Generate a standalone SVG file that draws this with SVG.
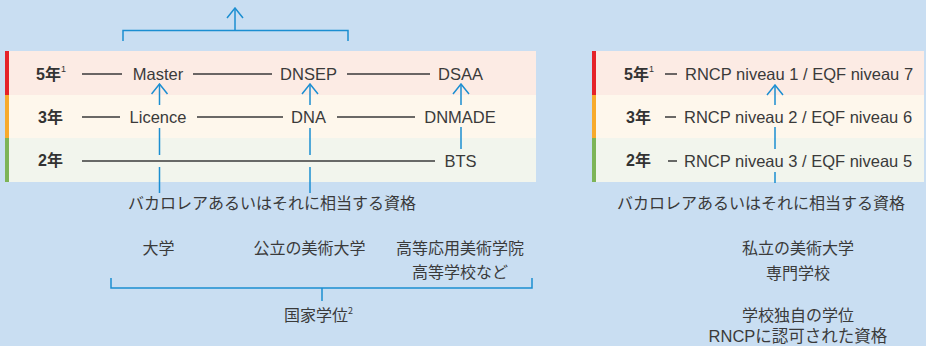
<svg xmlns="http://www.w3.org/2000/svg" width="926" height="346" viewBox="0 0 926 346">
<style>
.t{font-family:"Liberation Sans","Noto Sans CJK JP",sans-serif;font-size:16.5px;fill:#3a3a3a}
.j{font-family:"Noto Sans CJK JP","Liberation Sans",sans-serif;font-size:16px;fill:#3a3a3a}
.y{font-family:"Liberation Sans","Noto Sans CJK JP",sans-serif;font-size:16px;font-weight:bold;fill:#333}
.s{font-size:9px;font-weight:normal}
.m{text-anchor:middle}
.k{stroke:#3a3a3a;stroke-width:1.3;fill:none}
.b{stroke:#1b8ed1;stroke-width:1.5;fill:none}
</style>
<defs>
<marker id="arr" viewBox="-11 -9 12 18" refX="0" refY="0" markerWidth="12" markerHeight="18" markerUnits="userSpaceOnUse" orient="auto">
<path d="M-10,-8 L0,0 L-10,8" fill="none" stroke="#1b8ed1" stroke-width="1.5"/>
</marker>
</defs>
<rect width="926" height="346" fill="#c9def2"/>
<g id="left-panel">
<rect x="5" y="51" width="531" height="44" fill="#fcebe4"/>
<rect x="5" y="95" width="531" height="43" fill="#fef7ec"/>
<rect x="5" y="138" width="531" height="44" fill="#f2f5ed"/>
<rect x="5" y="51" width="4" height="44" fill="#e52229"/>
<rect x="5" y="95" width="4" height="43" fill="#f7aa2c"/>
<rect x="5" y="138" width="4" height="44" fill="#7db457"/>
</g>
<g id="right-panel">
<rect x="592" y="51" width="332" height="44" fill="#fcebe4"/>
<rect x="592" y="95" width="332" height="43" fill="#fef7ec"/>
<rect x="592" y="138" width="332" height="44" fill="#f2f5ed"/>
<rect x="592" y="51" width="4" height="44" fill="#e52229"/>
<rect x="592" y="95" width="4" height="43" fill="#f7aa2c"/>
<rect x="592" y="138" width="4" height="44" fill="#7db457"/>
</g>
<g id="year-labels">
<text class="y" x="36" y="80">5年<tspan class="s" dy="-8">1</tspan></text>
<text class="y" x="38" y="123">3年</text>
<text class="y" x="38" y="166">2年</text>
<text class="y" x="624" y="80">5年<tspan class="s" dy="-8">1</tspan></text>
<text class="y" x="626" y="123">3年</text>
<text class="y" x="626" y="166">2年</text>
</g>
<g id="node-master"><text class="t m" x="158" y="80">Master</text></g>
<g id="node-dnsep"><text class="t m" x="308.5" y="80">DNSEP</text></g>
<g id="node-dsaa"><text class="t m" x="460.5" y="80">DSAA</text></g>
<g id="node-licence"><text class="t m" x="158" y="123">Licence</text></g>
<g id="node-dna"><text class="t m" x="308.5" y="123">DNA</text></g>
<g id="node-dnmade"><text class="t m" x="460" y="123">DNMADE</text></g>
<g id="node-bts"><text class="t m" x="460.5" y="166.5">BTS</text></g>
<g id="node-rncp1"><text class="t" x="685" y="80">RNCP niveau 1 / EQF niveau 7</text></g>
<g id="node-rncp2"><text class="t" x="684" y="123">RNCP niveau 2 / EQF niveau 6</text></g>
<g id="node-rncp3"><text class="t" x="684" y="166.5">RNCP niveau 3 / EQF niveau 5</text></g>
<g id="node-bac-left"><text class="j m" x="272" y="209">バカロレアあるいはそれに相当する資格</text></g>
<g id="node-bac-right"><text class="j m" x="761" y="209">バカロレアあるいはそれに相当する資格</text></g>
<g id="node-univ"><text class="j m" x="158.5" y="254">大学</text></g>
<g id="node-public-art"><text class="j m" x="309.5" y="254">公立の美術大学</text></g>
<g id="node-applied-art"><text class="j m" x="460" y="254">高等応用美術学院</text><text class="j m" x="460" y="278">高等学校など</text></g>
<g id="node-national"><text class="j" x="284" y="321">国家学位<tspan font-size="9" dy="-7">2</tspan></text></g>
<g id="node-private"><text class="j m" x="798" y="254">私立の美術大学</text><text class="j m" x="798" y="279">専門学校</text></g>
<g id="node-school-degree"><text class="j m" x="798" y="321">学校独自の学位</text><text class="t m" x="798" y="342">RNCPに認可された資格</text></g>
<g id="connectors">
<path class="k" d="M82,74H122M193,74H272M347,74H430"/>
<path class="k" d="M82,117H120M197,117H283M337,117H415"/>
<path class="k" d="M82,161H435" stroke-width="2" stroke="#555"/>
<path class="k" d="M665,74H677M665,117H676M668,161H677"/>
<line class="b" x1="159.5" y1="105" x2="159.5" y2="84" marker-end="url(#arr)"/>
<path class="b" d="M159.5,128V155M159.5,167V193"/>
<line class="b" x1="310" y1="105" x2="310" y2="84" marker-end="url(#arr)"/>
<path class="b" d="M310,128V155M310,167V193"/>
<line class="b" x1="461" y1="105" x2="461" y2="84" marker-end="url(#arr)"/>
<path class="b" d="M461,127V149"/>
<line class="b" x1="775" y1="105" x2="775" y2="85" marker-end="url(#arr)"/>
<path class="b" d="M775,127V149M775,172V183"/>
<path class="b" d="M123,41V30.5H348V41"/>
<line class="b" x1="235" y1="30.5" x2="235" y2="8" marker-end="url(#arr)"/>
<path class="b" d="M111,278V288H532V278M322,288V301"/>
</g>
</svg>
